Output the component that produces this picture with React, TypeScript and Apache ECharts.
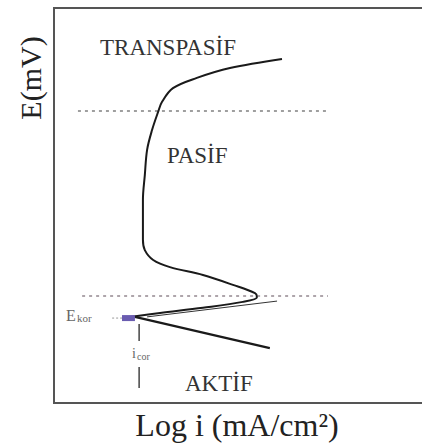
import React, { useEffect, useRef } from "react";
import * as echarts from "echarts";

// Polarization curve (anodic + passive + transpassive), arbitrary units (log i, E)
const curveLogI = [20.0, 27.9, 39.2, 49.7, 53.4, 52.9, 47.1, 39.2, 30.5, 26.1, 23.9, 23.4, 23.4, 23.9, 24.5, 25.8, 27.4, 28.4, 31.3, 37.6, 46.3, 60.0];
const curveE = [21.8, 22.8, 24.1, 25.6, 26.8, 27.8, 29.9, 32.4, 34.4, 36.2, 38.7, 41.3, 51.4, 57.7, 64.1, 69.1, 73.7, 76.2, 79.7, 82.3, 84.8, 87.1];

// Cathodic branch
const cathLogI = [21.3, 56.8];
const cathE = [21.8, 13.9];

// Tafel extrapolation
const tafelLogI = [24.5, 58.7];
const tafelE = [21.8, 25.8];

// Region boundaries
const upperBoundE = 73.9;
const upperBoundX = [6.3, 71.8];
const lowerBoundE = 27.1;
const lowerBoundX = [7.4, 72.1];

// E_kor and i_cor markers
const eKor = 21.5;
const eKorDashX = [15.3, 17.9];
const eKorMarkX = [17.9, 21.3];
const iCor = 22.4;
const iCorUpperE = [20.0, 15.7];
const iCorLowerE = [9.1, 3.8];

const zip = (xs: number[], ys: number[]) => xs.map((x, i) => [x, ys[i]]);

export default function App() {
  const ref = useRef<HTMLDivElement>(null);
  useEffect(() => {
    if (!ref.current) return;
    const chart = echarts.init(ref.current, undefined, { renderer: "svg" });
    const serif = "'Liberation Serif', 'DejaVu Serif', serif";
    const line = (data: number[][], color: string, width: number, type: any = "solid", smooth: any = false) => ({
      type: "line",
      data,
      symbol: "none",
      smooth,
      lineStyle: { color, width, type },
      silent: true,
    });
    const txt = (text: string, x: number, y: number, size: number, fill: string, align = "left", extra: any = {}) => ({
      type: "text",
      x,
      y,
      ...extra,
      style: { text, font: `${size}px ${serif}`, fill, textAlign: align, textVerticalAlign: "middle" },
    });
    chart.setOption({
      animation: false,
      grid: {
        left: 54,
        top: 8,
        width: 380,
        height: 395,
        outerBoundsMode: "none",
        containLabel: false,
        show: true,
        borderColor: "#555",
        borderWidth: 2,
      },
      xAxis: { type: "value", min: 0, max: 100, show: false },
      yAxis: { type: "value", min: 0, max: 100, show: false },
      series: [
        line(zip(upperBoundX, [upperBoundE, upperBoundE]), "#808080", 1.5, [3, 4]),
        line(zip(lowerBoundX, [lowerBoundE, lowerBoundE]), "#948890", 1.5, [3, 4]),
        line(zip(curveLogI, curveE), "#1a1a1a", 2, "solid", 0.35),
        line(zip(cathLogI, cathE), "#1a1a1a", 2.2),
        line(zip(tafelLogI, tafelE), "#333", 1),
        line(zip(eKorDashX, [eKor, eKor]), "#999", 1, [2, 2]),
        line(zip(eKorMarkX, [eKor, eKor]), "#6a5cb0", 6),
        line(zip([iCor, iCor], iCorUpperE), "#444", 1.5),
        line(zip([iCor, iCor], iCorLowerE), "#444", 1.5),
      ],
      graphic: [
        txt("TRANSPASİF", 100, 47, 23, "#333"),
        txt("PASİF", 167, 155, 23, "#333"),
        txt("AKTİF", 185, 383, 23, "#333"),
        txt("E", 66, 315, 16, "#666"),
        txt("kor", 77, 318, 11, "#666"),
        txt("i", 132, 353, 14, "#666"),
        txt("cor", 137, 356, 10, "#666"),
        txt("E(mV)", 30, 78, 30, "#222", "center", { rotation: Math.PI / 2 }),
        txt("Log i (mA/cm²)", 237, 425, 32, "#222", "center"),
      ],
    });
    return () => chart.dispose();
  }, []);
  return <div ref={ref} style={{ position: "fixed", left: 0, top: 0, width: 422, height: 445, background: "#fff" }} />;
}
